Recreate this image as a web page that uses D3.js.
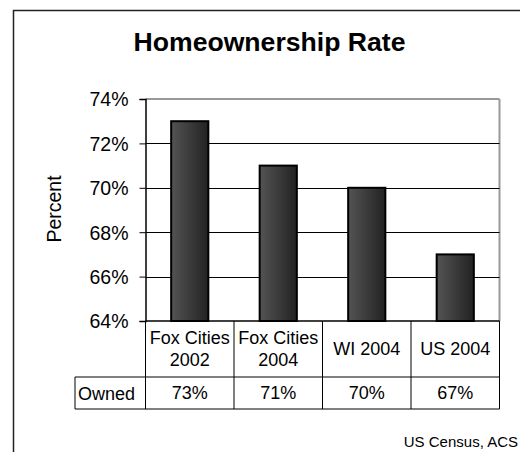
<!DOCTYPE html>
<html>
<head>
<meta charset="utf-8">
<script src="https://cdn.jsdelivr.net/npm/d3@7"></script>
<style>
  html, body { margin: 0; padding: 0; background: #fff; }
  svg { display: block; font-family: Arial, "Liberation Sans", sans-serif; }
</style>
</head>
<body>
<svg id="chart" width="520" height="452"></svg>
<script>
// Homeownership rate by area
const categories = [["Fox Cities", "2002"], ["Fox Cities", "2004"], ["WI 2004"], ["US 2004"]];
const owned = [73, 71, 70, 67];
const yTicks = [64, 66, 68, 70, 72, 74];
const seriesName = "Owned";

const svg = d3.select("#chart");
const plot = { left: 145.5, right: 499.5, top: 99, bottom: 321 };
const keys = categories.map(c => c.join(" "));

const y = d3.scaleLinear().domain([64, 74]).range([plot.bottom, plot.top]);
const cols = d3.scaleBand().domain(keys).range([plot.left, plot.right]).padding(0);
const xBar = d3.scaleBand().domain(keys).range([plot.left, plot.right])
  .paddingInner(0.58).paddingOuter(0.29);

// outer chart frame
svg.append("rect").attr("x", 13.5).attr("y", 10.5).attr("width", 520).attr("height", 460)
  .attr("fill", "none").attr("stroke", "#222").attr("stroke-width", 1.5);

svg.append("text").attr("x", 269.5).attr("y", 51)
  .attr("text-anchor", "middle").attr("font-size", 26.6).attr("font-weight", "bold")
  .text("Homeownership Rate");

// bar gradient
const grad = svg.append("defs").append("linearGradient").attr("id", "barGrad")
  .attr("x1", "0%").attr("x2", "100%").attr("y1", "0%").attr("y2", "0%");
grad.append("stop").attr("offset", "0%").attr("stop-color", "#545454");
grad.append("stop").attr("offset", "100%").attr("stop-color", "#222222");

// plot frame: grey top and right edges
svg.append("line").attr("x1", plot.left).attr("x2", plot.right)
  .attr("y1", plot.top).attr("y2", plot.top).attr("stroke", "#999").attr("stroke-width", 2);
svg.append("line").attr("x1", plot.right).attr("x2", plot.right)
  .attr("y1", plot.top).attr("y2", plot.bottom).attr("stroke", "#999").attr("stroke-width", 2);

// gridlines
svg.append("g").selectAll("line").data(yTicks.filter(t => t > 64 && t < 74)).join("line")
  .attr("x1", plot.left).attr("x2", plot.right)
  .attr("y1", d => Math.round(y(d)) + 0.5).attr("y2", d => Math.round(y(d)) + 0.5)
  .attr("stroke", "#000").attr("stroke-width", 1);

// y axis
const yAxis = svg.append("g").attr("transform", `translate(${plot.left},0)`)
  .call(d3.axisLeft(y).tickValues(yTicks).tickSize(6).tickPadding(11)
    .tickFormat(d => d + "%"));
yAxis.select(".domain").attr("stroke", "#000").attr("stroke-width", 1.5);
yAxis.selectAll(".tick line").attr("stroke", "#000");
yAxis.selectAll(".tick text").attr("font-size", 19.5).attr("fill", "#000")
  .attr("font-family", "Arial, 'Liberation Sans', sans-serif").attr("dy", "0.35em");

svg.append("text").attr("transform", "translate(61,209) rotate(-90)")
  .attr("text-anchor", "middle").attr("font-size", 19.5).text("Percent");

// bars
svg.append("g").selectAll("rect").data(owned).join("rect")
  .attr("x", (d, i) => xBar(keys[i]))
  .attr("y", d => y(d))
  .attr("width", xBar.bandwidth())
  .attr("height", d => y(64) - y(d))
  .attr("fill", "url(#barGrad)").attr("stroke", "#000").attr("stroke-width", 2);

// data table
const rowTop = plot.bottom, rowMid = 377, rowBot = 409, tableLeft = 75;
const tbl = svg.append("g").attr("stroke", "#000").attr("stroke-width", 1);
tbl.append("line").attr("x1", plot.left).attr("x2", plot.right)
  .attr("y1", rowTop).attr("y2", rowTop).attr("stroke-width", 1.5);
tbl.append("line").attr("x1", tableLeft).attr("x2", plot.right)
  .attr("y1", rowMid).attr("y2", rowMid);
tbl.append("line").attr("x1", tableLeft).attr("x2", plot.right)
  .attr("y1", rowBot).attr("y2", rowBot);
tbl.append("line").attr("x1", tableLeft).attr("x2", tableLeft)
  .attr("y1", rowMid).attr("y2", rowBot);
const edges = keys.map(k => cols(k)).concat([plot.right]);
tbl.selectAll(".v").data(edges).join("line")
  .attr("x1", d => d).attr("x2", d => d)
  .attr("y1", rowTop).attr("y2", rowBot);

const lbl = svg.append("g").attr("font-size", 18).attr("text-anchor", "middle");
categories.forEach((c, i) => {
  const cx = cols(keys[i]) + cols.bandwidth() / 2;
  if (c.length === 2) {
    lbl.append("text").attr("x", cx).attr("y", 344).text(c[0]);
    lbl.append("text").attr("x", cx).attr("y", 366).text(c[1]);
  } else {
    lbl.append("text").attr("x", cx).attr("y", 355).text(c[0]);
  }
  lbl.append("text").attr("x", cx).attr("y", 399).text(owned[i] + "%");
});
svg.append("text").attr("x", 78).attr("y", 400).attr("font-size", 18).text(seriesName);

svg.append("text").attr("x", 518).attr("y", 447).attr("text-anchor", "end")
  .attr("font-size", 15).text("US Census, ACS");
</script>
</body>
</html>
